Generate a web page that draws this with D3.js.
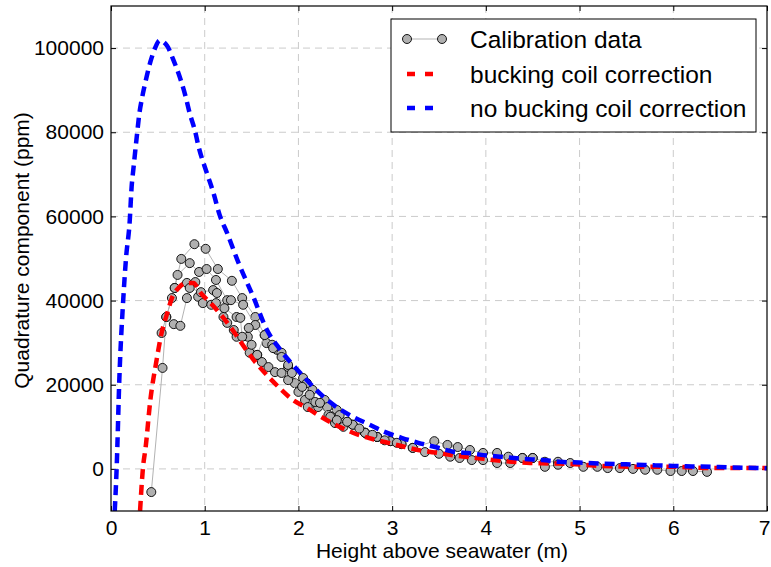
<!DOCTYPE html>
<html>
<head>
<meta charset="utf-8">
<script src="https://cdn.jsdelivr.net/npm/d3@7"></script>
<style>
  body { margin: 0; background: #fff; }
  svg { display: block; font-family: "Liberation Sans", Arial, sans-serif; }
</style>
</head>
<body>
<svg id="chart" width="771" height="567"></svg>
<script>
// model curves (height in m, quadrature in ppm)
const noBuckingH = [0.04,0.06,0.09,0.13,0.16,0.20,0.22,0.24,0.28,0.30,0.33,0.36,0.42,0.47,0.52,0.60,0.66,0.72,0.79,0.84,0.90,0.93,1.02,1.09,1.16,1.24,1.36,1.52,1.66,1.80,2.02,2.28,2.42,2.58,2.76,2.92,3.10,3.28,3.46,3.65,3.83,4.01,4.20,4.40,4.60,4.79,5.00,5.20,5.40,5.60,5.80,6.00,6.20,6.40,6.60,6.80,7.00]
const noBuckingQ = [-10000,0,22000,40000,50000,59000,67000,71500,80000,84000,88000,91200,96700,100000,101800,100500,97500,94000,89000,84500,80000,77000,70500,65800,60300,56000,49000,40800,33200,28500,22800,16900,14500,12400,10500,8800,7400,6200,5200,4100,3700,3200,2800,2400,2100,1700,1500,1300,1150,1000,850,700,600,500,350,250,150]

const buckingH = [0.31,0.34,0.37,0.42,0.48,0.54,0.60,0.65,0.72,0.81,0.88,0.95,1.08,1.20,1.32,1.43,1.54,1.68,1.80,1.94,2.09,2.21,2.42,2.58,2.79,2.96,3.14,3.32,3.49,3.70,3.90,4.08,4.28,4.47,4.67,4.87,5.04,5.22,5.40,5.61,5.80,6.00,6.20,6.39,6.60,6.79,7.00]
const buckingQ = [-10000,0,5200,16400,25000,32300,37000,40600,43000,44200,44200,42000,39000,35900,32300,28700,25400,21900,19200,16400,14500,12800,10200,8600,7100,6200,5200,4300,3800,3100,2600,2100,1700,1400,1300,1200,1000,700,600,500,500,500,350,200,200,200,200]

// calibration flights
const flightA_H = [0.43,0.55,0.59,0.68,0.75,0.89,1.01,1.14,1.29,1.40,1.54,1.64,1.77,1.89,2.05,2.15,2.28,2.41,2.52,2.71,2.84,2.98,3.10,3.22,3.45,3.59,3.70,3.83,3.97,4.12,4.24,4.39,4.50,4.63,4.77,4.90,5.04,5.19,5.30,5.43,5.57,5.70,5.83,5.97,6.09,6.21,6.36]
const flightA_Q = [-5500,24000,36100,43000,49900,53400,52300,47500,44700,40600,36100,31800,28300,24200,21600,18800,16400,14000,11200,8600,7600,6600,5900,5000,6600,5700,5200,4500,3800,3800,2900,2600,2600,1700,1700,1400,500,500,200,200,0,-200,-200,-500,-500,-500,-700]
const flightB_H = [0.54,0.65,0.71,0.84,0.94,1.02,1.12,1.24,1.28,1.41,1.54,1.66,1.72,1.82,1.96,2.09,2.21,2.31,2.44,2.58,2.71,2.84,2.98,3.10,3.22,3.35,3.50,3.62,3.72,3.85,3.97,4.12,4.26,4.39,4.50,4.63,4.77]
const flightB_Q = [32300,40600,46100,48900,46800,47500,44900,40100,40100,39000,34200,29900,29500,27600,20400,20400,14700,14700,12800,10500,8600,7600,6600,5900,5000,4000,3600,2900,2600,2100,2100,1400,1400,2600,2600,500,1000]
const flightC_H = [0.59,0.67,0.74,0.81,0.90,0.93,0.98,1.07,1.12,1.20,1.24,1.31,1.34,1.46,1.48,1.56,1.61,1.68,1.75,1.82,1.89,2.00,2.07,2.10,2.18,2.32,2.39,2.48,2.58,2.71,2.84]
const flightC_Q = [36100,34400,34000,40600,44400,40900,39400,39000,39400,36100,34700,33000,31400,31400,27600,27100,25400,24200,23000,22800,21100,18300,16400,14700,15900,12800,10900,10000,10500,8600,7600]
const flightD_H = [0.68,0.81,0.84,0.96,1.09,1.13,1.21,1.34,1.38,1.40,1.47,1.50,1.56,1.64,1.73,1.82,1.89,1.93,2.04,2.12,2.23,2.34,2.41,2.52,2.65,2.79,2.92,3.05]
const flightD_Q = [43000,44200,43000,42000,42500,41800,38200,36100,35900,31400,33500,29500,27100,31800,28700,26600,24700,22800,19500,17600,15700,12400,11600,11200,9600,8100,6800,6200]

const xTicks = [0,1,2,3,4,5,6,7]
const yTicks = [0,20000,40000,60000,80000,100000]
const legendLabels = ['Calibration data', 'bucking coil correction', 'no bucking coil correction']

const svg = d3.select('#chart')
const pL = 111, pR = 767, pT = 6, pB = 511

const x = d3.scaleLinear().domain([0, 7]).range([pL, pR])
const y = d3.scaleLinear().domain([-10000, 110000]).range([pB, pT])

svg.append('defs').append('clipPath').attr('id', 'clip')
  .append('rect').attr('x', pL).attr('y', pT).attr('width', pR - pL).attr('height', pB - pT)

// grid
const grid = svg.append('g').attr('stroke', '#cbcbcb').attr('stroke-width', 1).attr('stroke-dasharray', '7,5')
grid.selectAll('.gx').data(xTicks.slice(1, -1)).enter().append('line')
  .attr('x1', d => x(d)).attr('x2', d => x(d)).attr('y1', pT).attr('y2', pB)
grid.selectAll('.gy').data(yTicks).enter().append('line')
  .attr('x1', pL).attr('x2', pR).attr('y1', d => y(d)).attr('y2', d => y(d))

// axes, ticks pointing inward on all four sides
const fmt = d3.format('d')
function styleAxis(g) {
  g.select('.domain').remove()
  g.selectAll('.tick line').attr('stroke', '#000')
  g.selectAll('.tick text').attr('fill', '#000').attr('font-size', 21).attr('font-family', '"Liberation Sans", Arial, sans-serif')
}
svg.append('g').attr('transform', `translate(0,${pB})`)
  .call(d3.axisBottom(x).tickValues(xTicks).tickFormat(fmt).tickSizeInner(-5).tickSizeOuter(0).tickPadding(9))
  .call(styleAxis)
  .call(g => g.selectAll('.tick text').filter(d => d === 7).attr('dx', -3))
svg.append('g').attr('transform', `translate(0,${pT})`)
  .call(d3.axisTop(x).tickValues(xTicks).tickFormat('').tickSizeInner(-5).tickSizeOuter(0))
  .call(styleAxis)
svg.append('g').attr('transform', `translate(${pL},0)`)
  .call(d3.axisLeft(y).tickValues(yTicks).tickFormat(fmt).tickSizeInner(-5).tickSizeOuter(0).tickPadding(7))
  .call(styleAxis)
svg.append('g').attr('transform', `translate(${pR},0)`)
  .call(d3.axisRight(y).tickValues(yTicks).tickFormat('').tickSizeInner(-5).tickSizeOuter(0))
  .call(styleAxis)

const plot = svg.append('g').attr('clip-path', 'url(#clip)')

// calibration data
const flights = [[flightA_H, flightA_Q], [flightB_H, flightB_Q], [flightC_H, flightC_Q], [flightD_H, flightD_Q]]
const line = d3.line().x(d => x(d[0])).y(d => y(d[1]))
flights.forEach(f => {
  const pts = d3.zip(f[0], f[1])
  const g = plot.append('g')
  g.append('path').datum(pts).attr('d', line)
    .attr('fill', 'none').attr('stroke', '#b3b3b3').attr('stroke-width', 1)
  g.selectAll('circle').data(pts).enter().append('circle')
    .attr('cx', d => x(d[0])).attr('cy', d => y(d[1])).attr('r', 4.5)
    .attr('fill', '#b0b0b0').attr('stroke', '#000').attr('stroke-width', 0.9)
})

// model curves
const curve = d3.line().x(d => x(d[0])).y(d => y(d[1])).curve(d3.curveMonotoneX)
plot.append('path').datum(d3.zip(buckingH, buckingQ)).attr('d', curve)
  .attr('fill', 'none').attr('stroke', '#ff0000').attr('stroke-width', 4.5).attr('stroke-dasharray', '10,6')
plot.append('path').datum(d3.zip(noBuckingH, noBuckingQ)).attr('d', curve)
  .attr('fill', 'none').attr('stroke', '#0000ff').attr('stroke-width', 4.5).attr('stroke-dasharray', '10,6')

// frame
svg.append('rect').attr('x', pL).attr('y', pT).attr('width', pR - pL).attr('height', pB - pT)
  .attr('fill', 'none').attr('stroke', '#000').attr('stroke-width', 1.2)

// axis labels
svg.append('text').attr('x', (pL + pR) / 2 + 3).attr('y', 558).attr('text-anchor', 'middle')
  .attr('font-size', 21).text('Height above seawater (m)')
svg.append('text').attr('transform', `translate(29,${(pT + pB) / 2 - 8}) rotate(-90)`).attr('text-anchor', 'middle')
  .attr('font-size', 21).text('Quadrature component (ppm)')

// legend
const lg = svg.append('g')
lg.append('rect').attr('x', 391).attr('y', 19).attr('width', 365).attr('height', 113)
  .attr('fill', '#fff').attr('stroke', '#000').attr('stroke-width', 1)
const rowY = [39, 74, 108]
lg.append('line').attr('x1', 407).attr('x2', 442).attr('y1', rowY[0]).attr('y2', rowY[0])
  .attr('stroke', '#b3b3b3').attr('stroke-width', 1)
lg.selectAll('.lm').data([407, 442]).enter().append('circle')
  .attr('cx', d => d).attr('cy', rowY[0]).attr('r', 4.5)
  .attr('fill', '#b0b0b0').attr('stroke', '#000').attr('stroke-width', 0.9)
;['#ff0000', '#0000ff'].forEach((c, i) => {
  lg.append('line').attr('x1', 407).attr('x2', 440).attr('y1', rowY[i + 1]).attr('y2', rowY[i + 1])
    .attr('stroke', c).attr('stroke-width', 4.5).attr('stroke-dasharray', '8,10')
})
lg.selectAll('.lt').data(legendLabels).enter().append('text')
  .attr('x', 470).attr('y', (d, i) => rowY[i]).attr('dy', '0.35em')
  .attr('font-size', 24.5).text(d => d)
</script>
</body>
</html>
